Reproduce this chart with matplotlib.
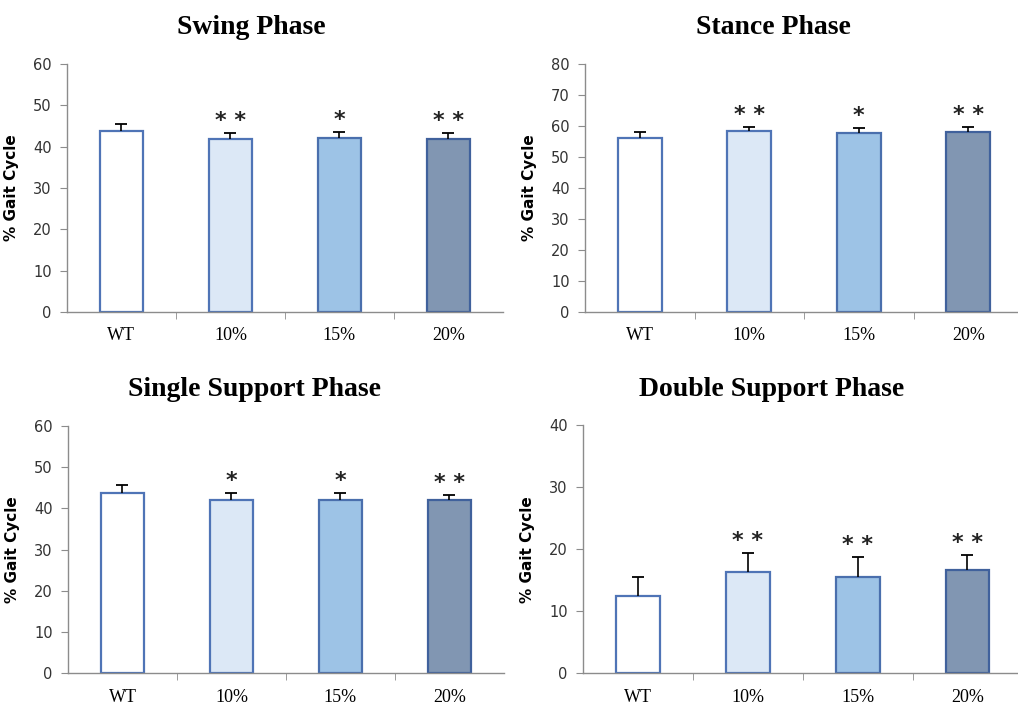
"""Gait phase bar panels (WT vs treatment levels) with significance stars."""

import matplotlib
matplotlib.use("Agg")
import matplotlib.pyplot as plt
import numpy as np

groups = ["WT", "10%", "15%", "20%"]

swing_mean = [43.9, 41.8, 42.0, 41.8]
swing_err = [1.7, 1.5, 1.6, 1.5]
swing_sig = ["", "**", "*", "**"]

stance_mean = [56.2, 58.3, 57.8, 58.2]
stance_err = [2.0, 1.5, 1.5, 1.6]
stance_sig = ["", "**", "*", "**"]

single_mean = [43.8, 42.1, 42.1, 41.9]
single_err = [1.8, 1.5, 1.5, 1.4]
single_sig = ["", "*", "*", "**"]

double_mean = [12.4, 16.3, 15.5, 16.6]
double_err = [3.2, 3.1, 3.2, 2.4]
double_sig = ["", "**", "**", "**"]

fills = ["#ffffff", "#dce8f6", "#9dc3e6", "#8196b2"]
edges = ["#4f74b6", "#4f74b6", "#4a6fad", "#40619c"]

PANEL_GRAY = "#8c8c8c"


def panel(fig, rect, title, title_xy, means, errs, sig, ymax, step, xright):
    ax = fig.add_axes(rect)
    x = np.arange(len(groups))
    tops = np.array(means) + np.array(errs)
    ax.bar(x, means, width=0.4, color=fills, edgecolor=edges, linewidth=1.6, zorder=2)
    ax.errorbar(x, means, yerr=[np.zeros(len(errs)), errs], fmt="none",
                ecolor="black", elinewidth=1.2, capsize=0, zorder=3)
    ax.plot(x, tops, ls="none", marker="_", ms=9, mew=1.3, color="black", zorder=3)
    for xi, t, s in zip(x, tops, sig):
        if s:
            ax.annotate(" ".join(s), (xi, t), xytext=(0, 12), textcoords="offset pixels",
                        ha="center", va="center", fontsize=16, family="DejaVu Sans",
                        fontweight="bold", color="#222222")
    ax.set_xlim(-0.5, xright)
    ax.set_ylim(0, ymax)
    ax.set_yticks(np.arange(0, ymax + 1, step))
    ax.set_xticks(x)
    ax.set_xticklabels(groups, family="Liberation Serif", fontsize=13)
    ax.set_xticks(x[:-1] + 0.5, minor=True)
    ax.tick_params(axis="x", which="major", length=0, pad=11)
    ax.tick_params(axis="x", which="minor", length=5, color=PANEL_GRAY, direction="out")
    ax.tick_params(axis="y", length=5, color=PANEL_GRAY, labelsize=10.5,
                   labelcolor="#333333", pad=6)
    for side in ("top", "right"):
        ax.spines[side].set_visible(False)
    for side in ("left", "bottom"):
        ax.spines[side].set_color(PANEL_GRAY)
        ax.spines[side].set_linewidth(1.0)
    ax.set_ylabel("% Gait Cycle", fontsize=11, fontweight="bold", labelpad=10)
    fig.text(title_xy[0], title_xy[1], title, family="Liberation Serif",
             fontweight="bold", fontsize=20, ha="center", va="center")
    return ax


def main():
    fig = plt.figure(figsize=(10.18, 7.04), dpi=100)
    panel(fig, [0.0658, 0.557, 0.4282, 0.352], "Swing Phase", (251 / 1018, 1 - 28 / 704),
          swing_mean, swing_err, swing_sig, 60, 10, 3.5)
    panel(fig, [0.5747, 0.557, 0.4253, 0.352], "Stance Phase", (773 / 1018, 1 - 28 / 704),
          stance_mean, stance_err, stance_sig, 80, 10, 3.454)
    panel(fig, [0.0668, 0.0436, 0.4282, 0.3517], "Single Support Phase",
          (255 / 1018, 1 - 389 / 704),
          single_mean, single_err, single_sig, 60, 10, 3.5)
    panel(fig, [0.5727, 0.0436, 0.4273, 0.3524], "Double Support Phase",
          (772 / 1018, 1 - 389 / 704),
          double_mean, double_err, double_sig, 40, 10, 3.46)
    fig.savefig("out.png", dpi=100)
    plt.close(fig)


if __name__ == "__main__":
    main()
